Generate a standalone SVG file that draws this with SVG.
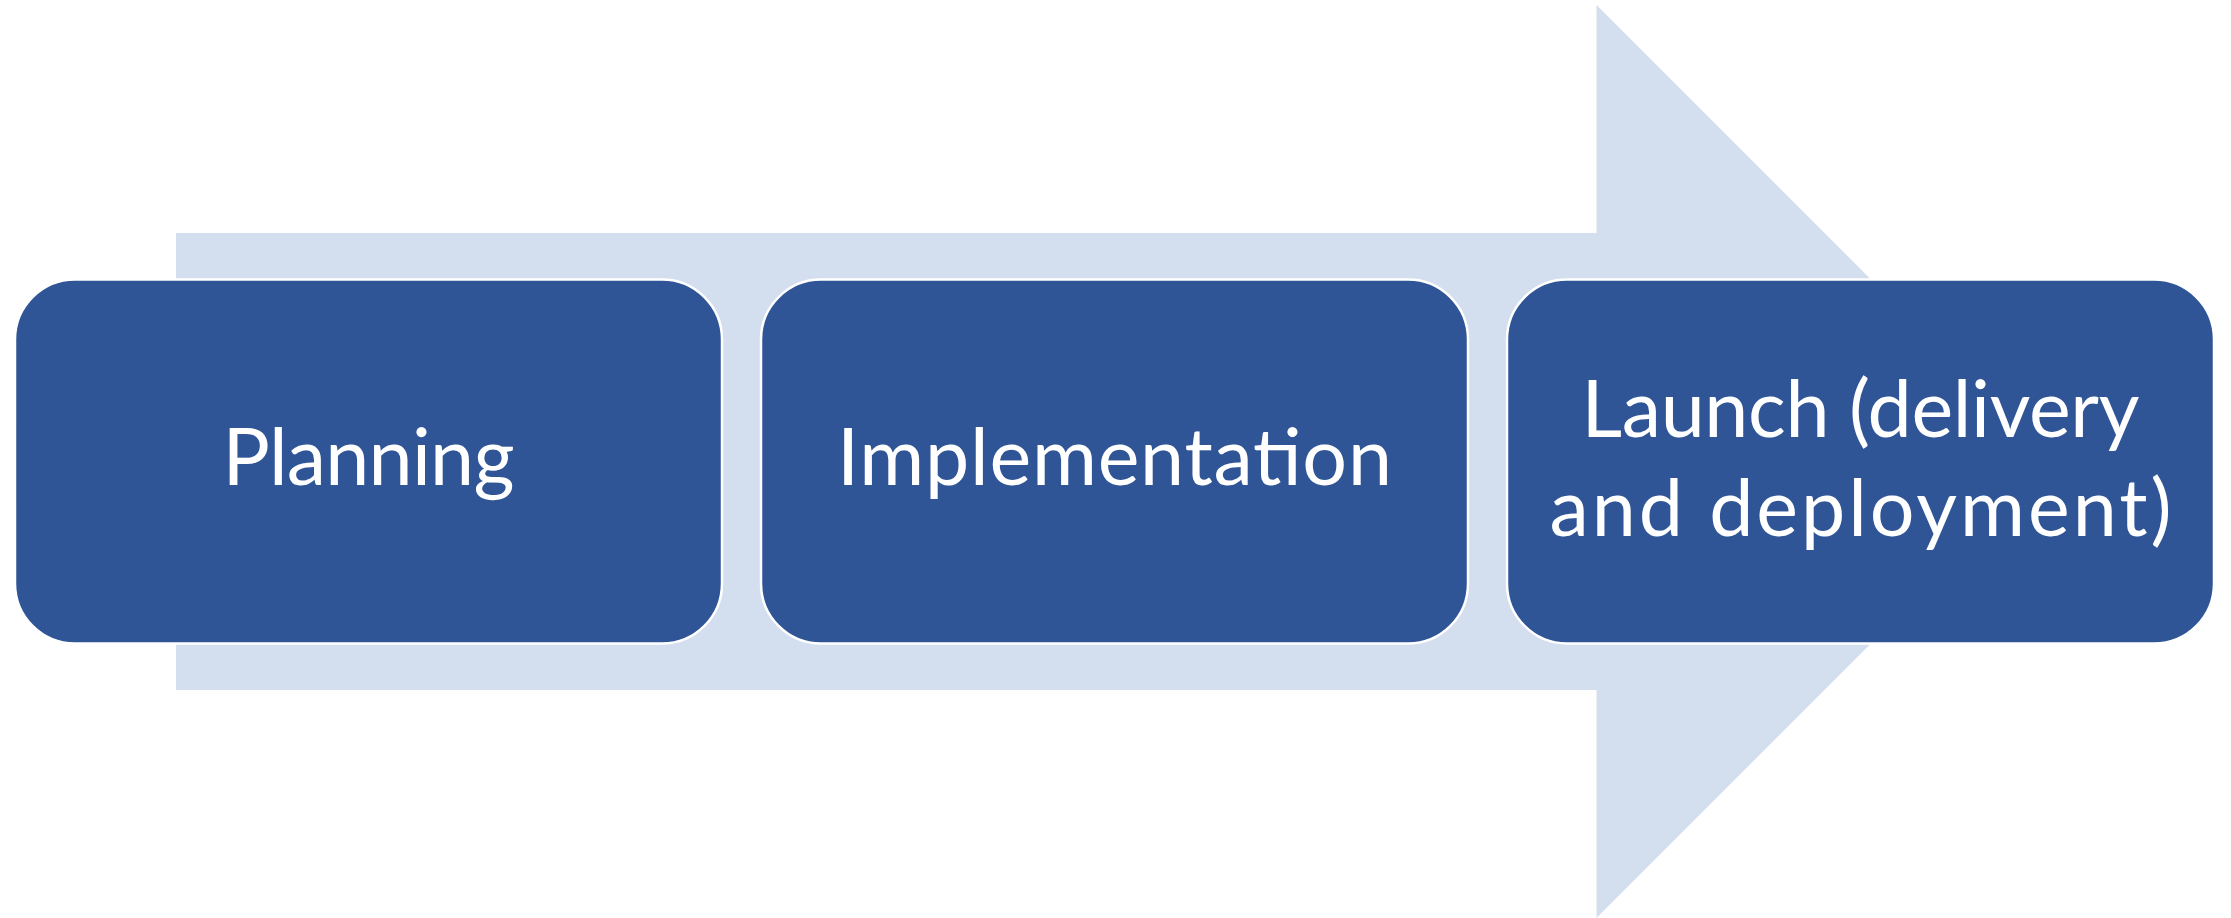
<svg xmlns="http://www.w3.org/2000/svg" width="2231" height="918" viewBox="0 0 2231 918">
  <style>
    .box { fill: #2F5597; stroke: #FFFFFF; stroke-width: 2.5; }
    .lbl { fill: #FFFFFF; font-family: Lato, "Liberation Sans", sans-serif; font-size: 79px; text-anchor: middle; }
  </style>
  <rect x="0" y="0" width="2231" height="918" fill="#FFFFFF"/>
  <g id="connectors">
    <polygon id="process-arrow" points="176,233 1596.5,233 1596.5,5 2053,461.5 1596.5,918 1596.5,690 176,690" fill="#D3DEEF"/>
  </g>
  <g id="planning">
    <rect class="box" x="15" y="279.5" width="707" height="364" rx="60" ry="60"/>
    <text class="lbl" x="368.5" y="485" textLength="292">Planning</text>
  </g>
  <g id="implementation">
    <rect class="box" x="761" y="279.5" width="707" height="364" rx="60" ry="60"/>
    <text class="lbl" x="1114.5" y="485" textLength="555">Implementation</text>
  </g>
  <g id="launch">
    <rect class="box" x="1507" y="279.5" width="707" height="364" rx="60" ry="60"/>
    <text class="lbl" x="1860.5" y="437" textLength="558">Launch (delivery</text>
    <text class="lbl" x="1860.5" y="536" textLength="622">and deployment)</text>
  </g>
</svg>
